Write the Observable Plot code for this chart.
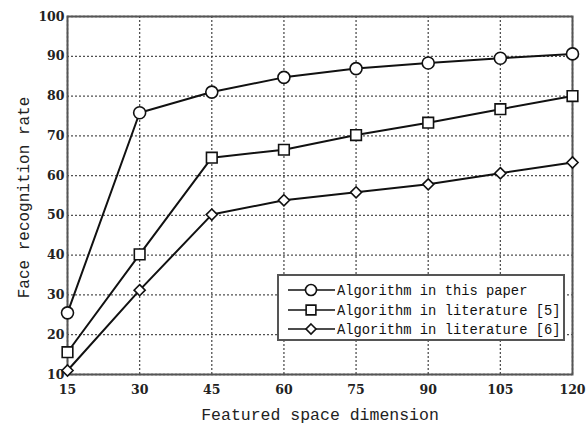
<!DOCTYPE html>
<html>
<head>
<meta charset="utf-8">
<script src="https://cdn.jsdelivr.net/npm/d3@7"></script>
<script src="https://cdn.jsdelivr.net/npm/@observablehq/plot@0.6"></script>
<style>
  html, body { margin: 0; padding: 0; background: #fff; }
  #wrap { position: relative; width: 587px; height: 425px; overflow: hidden; }
  #legend { position: absolute; left: 0; top: 0; }
</style>
</head>
<body>
<div id="wrap"></div>
<script>
const dims = [15, 30, 45, 60, 75, 90, 105, 120];
const seriesNames = ["Algorithm in this paper", "Algorithm in literature [5]", "Algorithm in literature [6]"];
const oursRate = [25.5, 75.8, 81.0, 84.7, 86.9, 88.3, 89.5, 90.6];
const lit5Rate = [15.6, 40.2, 64.5, 66.5, 70.2, 73.3, 76.7, 80.0];
const lit6Rate = [11.0, 31.2, 50.2, 53.8, 55.8, 57.8, 60.6, 63.3];
const xTicks = [15, 30, 45, 60, 75, 90, 105, 120];
const yTicks = [10, 20, 30, 40, 50, 60, 70, 80, 90, 100];
const xLabel = "Featured space dimension";
const yLabel = "Face recognition rate";
const symbols = ["circle", "square", "diamond2"];
const symbolR = [6, 6, 5];

const rates = [oursRate, lit5Rate, lit6Rate];
const data = [];
rates.forEach((arr, s) => arr.forEach((v, i) => data.push({series: seriesNames[s], s, dim: dims[i], rate: v})));

const tickFont = "DejaVu Serif, serif";
const monoFont = "Liberation Mono, DejaVu Sans Mono, monospace";

const marks = [
  Plot.gridX(xTicks, {stroke: "#333", strokeOpacity: 0.85, strokeDasharray: "2,2", strokeWidth: 1.3}),
  Plot.gridY(yTicks, {stroke: "#333", strokeOpacity: 0.85, strokeDasharray: "2,2", strokeWidth: 1.3}),
  Plot.axisX(xTicks, {tickSize: 0, tickPadding: 11, fontSize: 12.5, fontWeight: "bold", fontFamily: tickFont, fill: "#222", label: null}),
  Plot.axisY(yTicks, {tickSize: 0, tickPadding: 3, fontSize: 12.5, fontWeight: "bold", fontFamily: tickFont, fill: "#222", label: null}),
  Plot.frame({stroke: "#555", strokeWidth: 2}),
  Plot.line(data, {x: "dim", y: "rate", z: "series", stroke: "#111", strokeWidth: 2}),
];
seriesNames.forEach((name, s) => {
  marks.push(Plot.dot(data.filter(d => d.s === s), {x: "dim", y: "rate", symbol: () => symbols[s], r: symbolR[s], fill: "white", stroke: "#111", strokeWidth: 1.6}));
});
marks.push(Plot.text([xLabel], {frameAnchor: "bottom", dy: 40, textAnchor: "middle", fontFamily: monoFont, fontSize: 16.5, fill: "#222", lineAnchor: "middle"}));
marks.push(Plot.text([yLabel], {frameAnchor: "left", dx: -44, dy: 2, rotate: -90, textAnchor: "middle", fontFamily: monoFont, fontSize: 16, fill: "#222", lineAnchor: "middle"}));

const chart = Plot.plot({
  width: 587,
  height: 425,
  marginLeft: 67,
  marginRight: 15,
  marginTop: 16,
  marginBottom: 51,
  x: {domain: [15, 120]},
  y: {domain: [10, 100]},
  symbol: {type: "identity"},
  style: {background: "white", overflow: "hidden"},
  marks
});
document.getElementById("wrap").appendChild(chart);

// Legend overlay
const lg = d3.select("#wrap").append("svg")
  .attr("id", "legend").attr("width", 587).attr("height", 425)
  .style("left", "0px").style("top", "0px");
const bx = 278, by = 275, bw = 286, bh = 65;
lg.append("rect").attr("x", bx).attr("y", by).attr("width", bw).attr("height", bh)
  .attr("fill", "white").attr("stroke", "#555").attr("stroke-width", 2);
const rowY = [290, 310, 329];
const symPaths = [d3.symbolCircle, d3.symbolSquare, d3.symbolDiamond2];
seriesNames.forEach((name, s) => {
  const g = lg.append("g").attr("transform", `translate(0,${rowY[s]})`);
  g.append("line").attr("x1", 288).attr("x2", 335).attr("y1", 0).attr("y2", 0)
    .attr("stroke", "#111").attr("stroke-width", 1.5);
  g.append("path").attr("transform", "translate(311,0)")
    .attr("d", d3.symbol(symPaths[s], Math.PI * (symbolR[s] - 0.5) ** 2)())
    .attr("fill", "white").attr("stroke", "#111").attr("stroke-width", 1.6);
  g.append("text").attr("x", 337).attr("y", 0).attr("dy", "0.35em")
    .attr("font-family", monoFont).attr("font-size", 13.8).attr("fill", "#111").text(name);
});
</script>
</body>
</html>
